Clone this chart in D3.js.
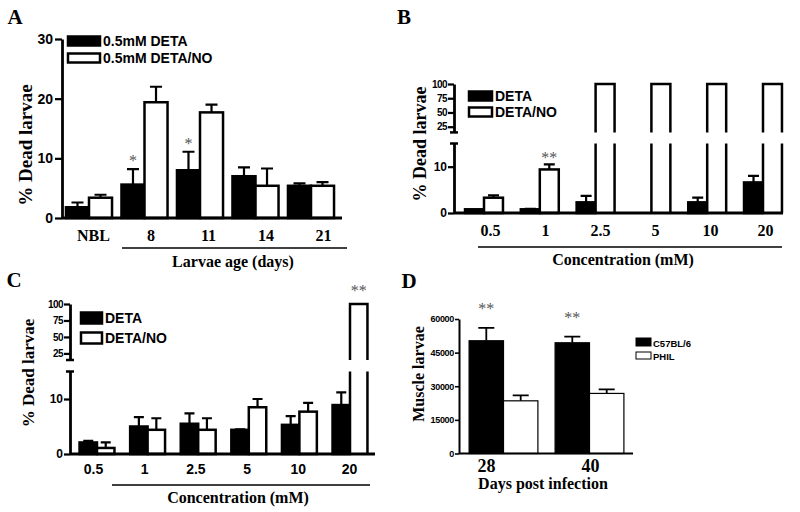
<!DOCTYPE html>
<html><head><meta charset="utf-8">
<script src="https://cdn.jsdelivr.net/npm/d3@7"></script>
<style>body{margin:0;background:#fff}</style>
</head><body>
<svg id="c" width="800" height="512"></svg>
<script>
// ---------- DATA ----------
const catsA = ["NBL", "8", "11", "14", "21"];
const detaA = [1.8, 5.6, 8.0, 7.0, 5.4];
const detaErrA = [0.8, 2.6, 3.1, 1.5, 0.4];
const detaNoA = [3.4, 19.4, 17.7, 5.4, 5.4];
const detaNoErrA = [0.5, 2.6, 1.3, 2.9, 0.6];
const sigA = ["", "*", "*", "", ""];          // above DETA bars
const ticksA = [0, 10, 20, 30];

const catsB = ["0.5", "1", "2.5", "5", "10", "20"];
const detaB = [0.8, 0.8, 2.3, 0, 2.3, 6.6];
const detaErrB = [0, 0.1, 1.4, 0, 1.0, 1.4];
const detaNoB = [3.3, 9.4, 100, 100, 100, 100];
const detaNoErrB = [0.5, 1.1, 0, 0, 0, 0];
const sigB = ["", "**", "", "", "", ""];      // above DETA/NO bars

const catsC = ["0.5", "1", "2.5", "5", "10", "20"];
const detaC = [2.1, 5.0, 5.5, 4.4, 5.3, 8.9];
const detaErrC = [0.3, 1.7, 1.9, 0.1, 1.6, 2.3];
const detaNoC = [1.1, 4.4, 4.4, 8.5, 7.7, 100];
const detaNoErrC = [1.0, 2.1, 2.1, 1.5, 1.6, 0];
const sigC = ["", "", "", "", "", "**"];      // above DETA/NO bars

const lowTicks = [0, 10];
const upTicks = [25, 50, 75, 100];

const catsD = ["28", "40"];
const c57 = [50300, 49400];
const c57Err = [5700, 2700];
const phil = [23500, 26800];
const philErr = [2400, 1800];
const sigD = ["**", "**"];                    // above C57BL/6 bars
const ticksD = [0, 15000, 30000, 45000, 60000];

// ---------- HELPERS ----------
const svg = d3.select("#c");
const SERIF = "'Liberation Serif','Times New Roman',serif";
const SANS = "'Liberation Sans',Arial,sans-serif";
const BRK = 15;

function drawSeries(g, o) {
  o.cats.forEach((c, i) => {
    const v = o.vals[i];
    if (!(v > 0)) return;
    const x0 = o.x(c) + o.sub(o.key), w = o.sub.bandwidth(), x1 = x0 + w;
    if (o.yUp && v > BRK) {
      g.append("rect").attr("x", x0).attr("width", w)
        .attr("y", o.y(BRK)).attr("height", o.y(0) - o.y(BRK)).attr("fill", o.fill);
      g.append("rect").attr("x", x0).attr("width", w)
        .attr("y", o.yUp(v)).attr("height", o.yUp(BRK) - o.yUp(v)).attr("fill", o.fill);
      g.append("path")
        .attr("d", `M${x0},${o.y(0)}V${o.y(BRK)}M${x1},${o.y(BRK)}V${o.y(0)}` +
                   `M${x0},${o.yUp(BRK)}V${o.yUp(v)}H${x1}V${o.yUp(BRK)}`)
        .attr("fill", "none").attr("stroke", "#000").attr("stroke-width", o.sw);
    } else {
      g.append("rect").attr("x", x0).attr("width", w)
        .attr("y", o.y(v)).attr("height", o.y(0) - o.y(v))
        .attr("fill", o.fill).attr("stroke", "#000").attr("stroke-width", o.sw);
      const e = o.errs[i];
      if (e > 0) {
        const cx = x0 + w / 2, yt = o.y(v + e);
        g.append("path")
          .attr("d", `M${cx},${o.y(v)}V${yt}M${cx - o.capW / 2},${yt}H${cx + o.capW / 2}`)
          .attr("fill", "none").attr("stroke", "#000").attr("stroke-width", o.ew);
      }
    }
    if (o.sig && o.sig[i]) {
      const top = (o.yUp && v > BRK) ? o.yUp(v) : o.y(v + (o.errs[i] || 0));
      g.append("text").attr("x", x0 + w / 2).attr("y", top - o.sigGap)
        .attr("text-anchor", "middle").attr("font-family", SERIF)
        .attr("font-size", 16).attr("fill", "#555").text(o.sig[i]);
    }
  });
}

function styleAxis(ax, sw, fs, family) {
  ax.select(".domain").attr("stroke-width", sw);
  ax.selectAll(".tick line").attr("stroke-width", sw * 0.8);
  ax.selectAll(".tick text").attr("font-family", family || SANS)
    .attr("font-weight", "bold").attr("font-size", fs).attr("fill", "#000");
}

function cap(g, x, y, sw) {
  g.append("path").attr("d", `M${x - 4},${y}H${x + 4}`)
    .attr("stroke", "#000").attr("stroke-width", sw);
}

function txt(g, x, y, s, size, family, extra) {
  const t = g.append("text").attr("x", x).attr("y", y).attr("font-family", family)
    .attr("font-weight", "bold").attr("font-size", size).attr("fill", "#000").text(s);
  if (extra) extra(t);
  return t;
}

function legend(g, x, y1, y2, rw, rh, labels, fs, sw) {
  g.append("rect").attr("x", x).attr("y", y1 - rh / 2).attr("width", rw).attr("height", rh)
    .attr("fill", "#000").attr("stroke", "#000").attr("stroke-width", sw);
  g.append("rect").attr("x", x).attr("y", y2 - rh / 2).attr("width", rw).attr("height", rh)
    .attr("fill", "#fff").attr("stroke", "#000").attr("stroke-width", sw);
  txt(g, x + rw + 3, y1, labels[0], fs, SANS, t => t.attr("dominant-baseline", "central"));
  txt(g, x + rw + 3, y2, labels[1], fs, SANS, t => t.attr("dominant-baseline", "central"));
}

function yTitle(g, x, y, s, size) {
  txt(g, 0, 0, s, size, SERIF, t => t.attr("text-anchor", "middle")
    .attr("transform", `translate(${x},${y}) rotate(-90)`).attr("dominant-baseline", "central"));
}

// ---------- PANEL A ----------
{
  const g = svg.append("g");
  const y = d3.scaleLinear().domain([0, 30]).range([218, 39]);
  const x = d3.scaleBand().domain(catsA).range([61.25, 338.75]).paddingInner(0.17).paddingOuter(0.085);
  const sub = d3.scaleBand().domain(["d", "n"]).range([0, x.bandwidth()]);
  const base = {x, sub, cats: catsA, y, sw: 2.5, ew: 2.2, capW: 12, sigGap: 3};
  drawSeries(g, {...base, key: "d", vals: detaA, errs: detaErrA, fill: "#000", sig: sigA});
  drawSeries(g, {...base, key: "n", vals: detaNoA, errs: detaNoErrA, fill: "#fff"});
  const ay = g.append("g").attr("transform", "translate(62,0)")
    .call(d3.axisLeft(y).tickValues(ticksA).tickSize(7).tickSizeOuter(0).tickPadding(2));
  styleAxis(ay, 2.8, 14);
  g.append("path").attr("d", `M62,218H342`).attr("stroke", "#000").attr("stroke-width", 2.8);
  const lx = d3.scalePoint().domain(catsA).range([93, 323]);
  const ax = g.append("g").attr("transform", "translate(0,218)")
    .call(d3.axisBottom(lx).tickSize(0).tickPadding(12));
  ax.select(".domain").remove();
  styleAxis(ax, 0, 16, SERIF);
  g.append("path").attr("d", "M122,248H347").attr("stroke", "#000").attr("stroke-width", 1.5);
  txt(g, 233, 267, "Larvae age (days)", 16, SERIF, t => t.attr("text-anchor", "middle"));
  legend(g, 68, 41, 58, 32, 9, ["0.5mM DETA", "0.5mM DETA/NO"], 14, 2.5);
  yTitle(g, 25, 145, "% Dead larvae", 19);
  txt(g, 15, 24, "A", 21, SERIF, t => t.attr("text-anchor", "middle"));
}

// ---------- PANEL B ----------
{
  const g = svg.append("g");
  const y = d3.scaleLinear().domain([0, BRK]).range([213, 143.5]);
  const yUp = d3.scaleLinear().domain([BRK, 100]).range([132.4, 84]);
  const x = d3.scaleBand().domain(catsB).range([456.1, 790.9]).paddingInner(0.32).paddingOuter(0.16);
  const sub = d3.scaleBand().domain(["d", "n"]).range([0, x.bandwidth()]);
  const base = {x, sub, cats: catsB, y, yUp, sw: 2.5, ew: 2.2, capW: 11, sigGap: 1};
  drawSeries(g, {...base, key: "d", vals: detaB, errs: detaErrB, fill: "#000"});
  drawSeries(g, {...base, key: "n", vals: detaNoB, errs: detaNoErrB, fill: "#fff", sig: sigB});
  const a1 = g.append("g").attr("transform", "translate(454,0)")
    .call(d3.axisLeft(y).tickValues(lowTicks).tickSize(6).tickSizeOuter(0).tickPadding(1));
  styleAxis(a1, 2.8, 12);
  const a2 = g.append("g").attr("transform", "translate(454,0)")
    .call(d3.axisLeft(yUp).tickValues(upTicks).tickSize(6).tickSizeOuter(0).tickPadding(1));
  styleAxis(a2, 2.8, 10);
  a2.selectAll(".tick text").attr("letter-spacing", -0.6);
  cap(g, 454, 143.5, 2.5); cap(g, 454, 132.4, 2.5);
  g.append("path").attr("d", `M454,213H783`).attr("stroke", "#000").attr("stroke-width", 2.8);
  const lx = d3.scalePoint().domain(catsB).range([490, 765]);
  const ax = g.append("g").attr("transform", "translate(0,213)")
    .call(d3.axisBottom(lx).tickSize(0).tickPadding(12));
  ax.select(".domain").remove();
  styleAxis(ax, 0, 16, SERIF);
  g.append("path").attr("d", "M478,247H782").attr("stroke", "#000").attr("stroke-width", 1.5);
  txt(g, 623, 265, "Concentration (mM)", 16, SERIF, t => t.attr("text-anchor", "middle"));
  legend(g, 469, 96, 112, 23, 9, ["DETA", "DETA/NO"], 14, 2.5);
  yTitle(g, 420, 144, "% Dead larvae", 18);
  txt(g, 404, 24, "B", 21, SERIF, t => t.attr("text-anchor", "middle"));
}

// ---------- PANEL C ----------
{
  const g = svg.append("g");
  const y = d3.scaleLinear().domain([0, BRK]).range([454, 371.5]);
  const yUp = d3.scaleLinear().domain([BRK, 100]).range([360, 304]);
  const x = d3.scaleBand().domain(catsC).range([71.7, 375.3]).paddingInner(0.31).paddingOuter(0.155);
  const sub = d3.scaleBand().domain(["d", "n"]).range([0, x.bandwidth()]);
  const base = {x, sub, cats: catsC, y, yUp, sw: 2.5, ew: 2.2, capW: 10, sigGap: 8};
  drawSeries(g, {...base, key: "d", vals: detaC, errs: detaErrC, fill: "#000"});
  drawSeries(g, {...base, key: "n", vals: detaNoC, errs: detaNoErrC, fill: "#fff", sig: sigC});
  const a1 = g.append("g").attr("transform", "translate(70,0)")
    .call(d3.axisLeft(y).tickValues(lowTicks).tickSize(6).tickSizeOuter(0).tickPadding(1));
  styleAxis(a1, 2.8, 12);
  const a2 = g.append("g").attr("transform", "translate(70,0)")
    .call(d3.axisLeft(yUp).tickValues(upTicks).tickSize(6).tickSizeOuter(0).tickPadding(1));
  styleAxis(a2, 2.8, 10);
  a2.selectAll(".tick text").attr("letter-spacing", -0.6);
  cap(g, 70, 371.5, 2.5); cap(g, 70, 360, 2.5);
  g.append("path").attr("d", `M70,454H375`).attr("stroke", "#000").attr("stroke-width", 2.8);
  const lx = d3.scalePoint().domain(catsC).range([93, 349]);
  const ax = g.append("g").attr("transform", "translate(0,454)")
    .call(d3.axisBottom(lx).tickSize(0).tickPadding(10));
  ax.select(".domain").remove();
  styleAxis(ax, 0, 14, SANS);
  g.append("path").attr("d", "M112,485H370").attr("stroke", "#000").attr("stroke-width", 1.5);
  txt(g, 238, 503, "Concentration (mM)", 16, SERIF, t => t.attr("text-anchor", "middle"));
  legend(g, 81, 318, 338, 21, 11, ["DETA", "DETA/NO"], 14, 2.5);
  yTitle(g, 28, 373, "% Dead larvae", 17);
  txt(g, 14, 287, "C", 21, SERIF, t => t.attr("text-anchor", "middle"));
}

// ---------- PANEL D ----------
{
  const g = svg.append("g");
  const y = d3.scaleLinear().domain([0, 60000]).range([453.5, 319]);
  const x = d3.scaleBand().domain(catsD).range([460.5, 632.5]).paddingInner(0.2).paddingOuter(0.1);
  const sub = d3.scaleBand().domain(["c", "p"]).range([0, x.bandwidth()]);
  const base = {x, sub, cats: catsD, y, sw: 1.2, ew: 1.8, capW: 16, sigGap: 14};
  drawSeries(g, {...base, key: "c", vals: c57, errs: c57Err, fill: "#000", sig: sigD});
  drawSeries(g, {...base, key: "p", vals: phil, errs: philErr, fill: "#fff"});
  const ay = g.append("g").attr("transform", "translate(459,0)")
    .call(d3.axisLeft(y).tickValues(ticksD).tickFormat(d3.format("d"))
      .tickSize(4).tickSizeOuter(0).tickPadding(1));
  styleAxis(ay, 2, 9);
  ay.selectAll(".tick text").attr("letter-spacing", -0.3);
  g.append("path").attr("d", `M459,453.5H633`).attr("stroke", "#000").attr("stroke-width", 2);
  const lx = d3.scalePoint().domain(catsD).range([486, 590]);
  const ax = g.append("g").attr("transform", "translate(0,453.5)")
    .call(d3.axisBottom(lx).tickSize(0).tickPadding(6));
  ax.select(".domain").remove();
  styleAxis(ax, 0, 18, SERIF);
  txt(g, 543, 489, "Days post infection", 16, SERIF, t => t.attr("text-anchor", "middle"));
  g.append("rect").attr("x", 636).attr("y", 338).attr("width", 15).attr("height", 8)
    .attr("fill", "#000").attr("stroke", "#000").attr("stroke-width", 1);
  g.append("rect").attr("x", 636).attr("y", 352).attr("width", 15).attr("height", 7)
    .attr("fill", "#fff").attr("stroke", "#000").attr("stroke-width", 1);
  txt(g, 653, 343, "C57BL/6", 9.5, SANS, t => t.attr("dominant-baseline", "central"));
  txt(g, 653, 356, "PHIL", 9.5, SANS, t => t.attr("dominant-baseline", "central"));
  yTitle(g, 418, 374, "Muscle larvae", 16);
  txt(g, 409, 288, "D", 21, SERIF, t => t.attr("text-anchor", "middle"));
}
</script>
</body></html>
